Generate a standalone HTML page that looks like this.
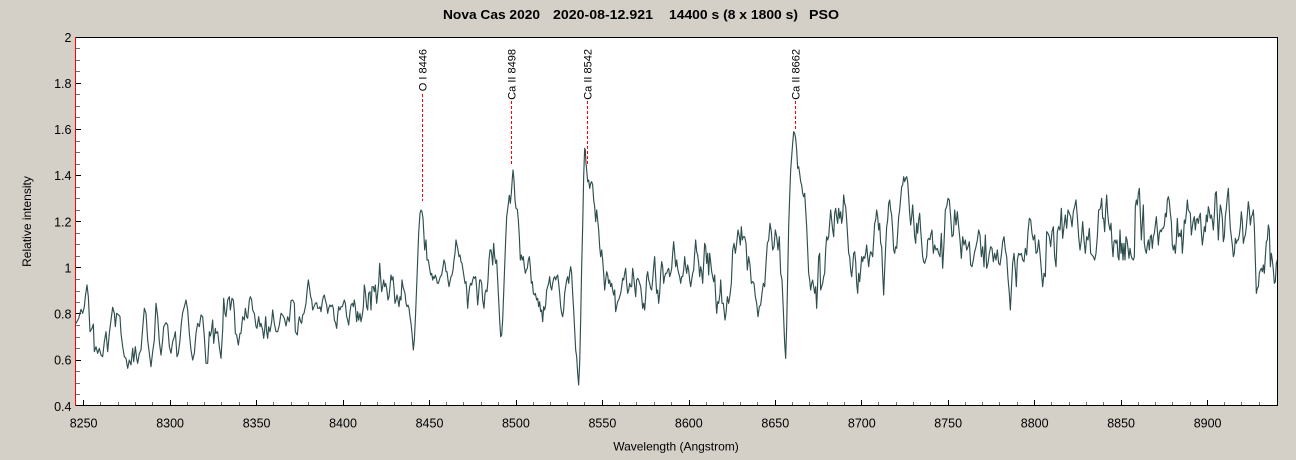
<!DOCTYPE html>
<html>
<head>
<meta charset="utf-8">
<style>
  html,body{margin:0;padding:0;background:#d4d0c8;}
  svg{display:block;}
  text{font-family:"Liberation Sans",Arial,sans-serif;fill:#000;}
</style>
</head>
<body>
<svg width="1296" height="460" viewBox="0 0 1296 460" xmlns="http://www.w3.org/2000/svg">
  <rect x="0" y="0" width="1296" height="460" fill="#d4d0c8"/>
  <!-- Title -->
  <g font-weight="bold" font-size="13">
    <text x="443" y="19" textLength="97" lengthAdjust="spacingAndGlyphs">Nova Cas 2020</text>
    <text x="553" y="19" textLength="100" lengthAdjust="spacingAndGlyphs">2020-08-12.921</text>
    <text x="669" y="19" textLength="129" lengthAdjust="spacingAndGlyphs">14400 s (8 x 1800 s)</text>
    <text x="809" y="19" textLength="30" lengthAdjust="spacingAndGlyphs">PSO</text>
  </g>

  <!-- Plot area -->
  <rect x="76" y="38" width="1201" height="368" fill="#ffffff"/>

  <!-- Tick marks -->
  <g shape-rendering="crispEdges" stroke-width="1">
    <!-- y major -->
    <path stroke="#000" d="M75 37.5H81M75 83.5H81M75 129.5H81M75 175.5H81M75 221.5H81M75 267.5H81M75 313.5H81M75 360.5H81M75 405.5H81"/>
    <!-- y minor -->
    <path stroke="#707070" d="M76 48.5H80M76 60.5H80M76 71.5H80M76 94.5H80M76 106.5H80M76 117.5H80M76 141.5H80M76 152.5H80M76 164.5H80M76 187.5H80M76 198.5H80M76 210.5H80M76 233.5H80M76 244.5H80M76 256.5H80M76 279.5H80M76 291.5H80M76 302.5H80M76 325.5H80M76 337.5H80M76 348.5H80M76 371.5H80M76 383.5H80M76 394.5H80"/>
    <!-- x major -->
    <path stroke="#000" d="M83.5 406V400M170.5 406V400M256.5 406V400M343.5 406V400M429.5 406V400M516.5 406V400M602.5 406V400M689.5 406V400M775.5 406V400M861.5 406V400M948.5 406V400M1034.5 406V400M1121.5 406V400M1207.5 406V400"/>
    <!-- x minor -->
    <path stroke="#707070" d="M100.5 406V402M118.5 406V402M135.5 406V402M152.5 406V402M187.5 406V402M204.5 406V402M221.5 406V402M239.5 406V402M273.5 406V402M291.5 406V402M308.5 406V402M325.5 406V402M360.5 406V402M377.5 406V402M394.5 406V402M411.5 406V402M446.5 406V402M463.5 406V402M481.5 406V402M498.5 406V402M533.5 406V402M550.5 406V402M567.5 406V402M584.5 406V402M619.5 406V402M636.5 406V402M654.5 406V402M671.5 406V402M706.5 406V402M723.5 406V402M740.5 406V402M757.5 406V402M792.5 406V402M809.5 406V402M827.5 406V402M844.5 406V402M878.5 406V402M896.5 406V402M913.5 406V402M930.5 406V402M965.5 406V402M982.5 406V402M999.5 406V402M1017.5 406V402M1051.5 406V402M1069.5 406V402M1086.5 406V402M1103.5 406V402M1138.5 406V402M1155.5 406V402M1172.5 406V402M1190.5 406V402M1224.5 406V402M1241.5 406V402M1259.5 406V402"/>
  </g>

  <!-- Annotation dashed lines -->
  <g stroke="#ff0000" stroke-width="1" stroke-dasharray="3 2" shape-rendering="crispEdges">
    <line x1="422.5" y1="94" x2="422.5" y2="201"/>
    <line x1="511.5" y1="101" x2="511.5" y2="166"/>
    <line x1="587.5" y1="101" x2="587.5" y2="166"/>
    <line x1="795.5" y1="101" x2="795.5" y2="129"/>
  </g>

  <!-- Spectrum -->
  <defs>
    <clipPath id="pc"><rect x="76" y="38" width="1201" height="368"/></clipPath>
  </defs>
  <g clip-path="url(#pc)" fill="none" stroke="#2f4f4f" stroke-width="1.15" stroke-linejoin="round">
    <g transform="translate(76,200) scale(0.333333)">
      <polyline vector-effect="non-scaling-stroke" points="0,370 8,355 15,328 20,340 25,320 28,290 33,255 37,290 42,395 48,385 52,372 55,455 60,440 65,460 70,445 75,465 80,470 85,425 90,395 95,455 100,400 105,360 110,322 115,340 118,380 122,340 128,345 132,350 135,400 140,440 145,470 150,475 155,505 160,480 165,495 170,445 173,485 178,440 182,475 185,490 190,460 195,450 200,385 205,325 210,340 215,420 220,460 225,500 230,455 235,420 240,310 245,350 250,425 255,465 260,420 263,380 270,368 275,375 280,440 285,460 290,425 295,410 298,395 303,470 307,460 312,420 316,370 320,338 325,320 330,300 335,330 340,400 345,450 350,480 355,460 360,400 365,370 370,380 375,345 380,350 385,410 390,490 395,490 400,395 403,408 406,395 410,360 413,430 418,385 420,400 425,395 430,440 435,475 440,390 443,295 447,340 450,350 455,300 460,290 463,330 468,295 472,300 475,335 478,400 482,405 487,435 492,400 495,400 500,350 505,360 508,325 512,350 515,355 520,300 523,290 527,300 530,330 535,340 540,380 543,385 548,350 552,380 555,370 560,390 563,415 566,390 569,350 572,395 575,415 578,380 582,395 587,365 590,330 595,370 600,395 605,395 610,375 615,340 620,345 625,355 630,378 635,350 640,365 645,302 650,300 655,310 658,395"/>
    </g>
    <g transform="translate(290,160) scale(0.333333)">
      <polyline vector-effect="non-scaling-stroke" points="16,515 22,525 25,490 28,470 32,485 35,490 38,465 42,460 45,445 48,430 52,385 55,360 58,380 62,410 65,420 68,450 72,440 76,430 80,428 83,445 87,445 90,440 93,455 97,425 100,410 103,405 106,420 110,435 113,460 116,445 120,435 123,440 127,435 130,445 133,480 137,490 140,505 143,465 146,440 150,450 153,440 157,440 160,430 163,420 166,430 170,470 173,480 176,495 180,455 183,435 187,430 190,440 193,420 196,440 200,485 203,455 206,480 210,460 213,485 217,465 220,440 223,375 226,395 230,440 233,450 236,400 240,395 243,450 246,380 250,380 253,395 256,375 260,430 263,400 266,370 269,310 272,355 275,395 278,380 281,360 284,380 287,370 290,385 294,420 297,410 300,380 303,345 306,360 309,350 312,385 315,430 318,420 321,405 324,420 327,440 330,410 333,420 336,360 339,380 342,390 345,400 348,430 351,440 354,435 357,445 360,470 363,490 366,520 370,570 373,540 376,480 380,380 383,300 386,220 390,160 393,150 396,155 399,175 402,230 404,270 406,255 408,240 411,300 415,300 418,320 422,345 425,340 428,360 430,350 433,355 436,345 439,355 442,370 445,370 448,360 451,350 455,345 459,320 462,300 465,310 468,335 471,335 474,360 477,380 480,365 483,350 486,345 489,330 492,300 495,280 498,240 501,255 504,270 507,290 510,285 513,305 516,310 519,330 522,350 525,370 528,365 530,390 533,445 536,405 539,380 542,370 545,375 548,360 551,350 554,355 557,350 560,385 563,435 566,400 569,360 572,360 575,370 578,420 582,445 585,400 588,390 591,395 594,360 597,300 600,270 603,270 606,290 608,315 611,250 614,290 617,310 620,300 623,360 626,420 629,480 632,530 635,525 638,480 641,400 644,320 647,240 650,170 654,140 658,105"/>
    </g>
    <g transform="translate(500,120) scale(0.333333)">
      <polyline vector-effect="non-scaling-stroke" points="28,225 31,250 34,220 37,175 39,150 42,180 45,240 48,265 52,268 55,300 58,350 61,420 64,405 67,420 70,410 73,440 76,460 79,450 82,445 85,420 88,410 91,440 94,490 97,485 100,520 103,525 106,520 110,540 113,535 116,560 119,545 122,575 125,570 128,605 131,560 134,570 137,555 140,510 143,500 146,490 149,470 152,500 155,510 158,490 161,475 164,470 167,480 170,470 173,465 176,490 179,520 182,560 185,580 188,590 191,570 194,520 197,500 200,480 203,470 206,490 209,460 212,440 215,460 218,520 221,570 224,630 227,690 230,710 233,760 236,795 239,730 242,600 245,440 248,320 251,170 254,85 256,90 258,130 260,150 263,185 266,180 269,205 272,190 275,185 278,195 281,240 284,260 287,305 290,270 293,300 296,330 299,380 302,410 305,390 308,420 311,460 314,510 317,480 320,455 323,465 326,490 329,480 332,500 335,490 338,510 341,525 344,510 347,575 350,560 353,545 356,540 359,530 362,520 365,500 368,475 371,480 374,460 377,445 380,490 383,520 386,510 389,490 392,500 395,500 398,445 401,470 404,500 407,530 410,480 413,475 416,480 419,490 422,500 425,530 428,565 431,550 434,570 437,530 440,470 443,455 446,480 449,490 452,505 455,510 458,480 461,440 464,410 467,470 470,520 473,510 476,550 479,520 482,460 485,425 488,440 491,490 494,470 497,460 500,460 503,450 506,445 509,470 512,460 515,445 518,400 521,365 524,400 527,440 530,420 533,445 536,460 539,470 542,490 545,470 548,470 551,450 554,410 557,440 560,460 563,435 566,450 569,480 572,500 575,480 578,460 581,450 584,400 587,360 590,395 593,405 596,430 599,470 602,440 605,455 608,490 611,430 614,370 617,380 620,430 623,400 626,465 629,400 632,425 635,455 638,470 641,485 644,465 647,530 650,580 653,545 656,550 660,520"/>
    </g>
    <g transform="translate(710,110) scale(0.333333)">
      <polyline vector-effect="non-scaling-stroke" points="30,550 32,510 36,580 40,580 45,630 48,610 52,560 56,580 60,555 64,520 68,420 72,400 76,430 80,400 84,360 88,380 91,405 94,350 97,390 100,380 104,380 108,400 112,480 116,440 120,465 124,520 128,515 132,520 136,560 140,580 144,620 148,590 152,585 156,550 160,520 164,530 168,460 172,400 176,390 180,340 184,365 188,420 192,410 196,360 200,380 204,420 208,380 212,490 216,510 220,600 224,700 227,745 230,650 233,500 236,350 239,260 242,180 245,140 248,100 251,65 254,70 257,85 260,120 263,175 266,170 269,190 272,215 275,225 278,250 281,260 284,250 287,300 290,350 293,420 296,490 299,510 302,540 305,520 308,510 311,530 314,550 317,530 320,595 323,520 326,440 329,430 332,540 335,530 338,520 341,500 344,490 347,420 350,380 353,390 356,380 359,340 362,300 365,330 368,360 371,380 374,310 377,295 380,320 383,340 386,295 389,325 392,305 395,340 398,320 401,255 404,280 407,290 410,330 413,380 416,430 419,440 422,480 425,500 428,470 431,430 434,425 437,455 440,520 443,550 446,490 449,515 452,480 455,440 458,455 461,440 464,445 467,430 470,405 473,440 476,470 479,440 482,425 485,430 488,440 491,390 494,340 497,330 500,300 503,320 506,360 509,340 512,400 515,410 518,490 521,555 524,480 527,410 530,350 533,330 536,280 539,270 542,300 545,315 548,360 551,420 554,430 557,410 560,415 563,370 566,320 569,300 572,265 575,230 578,225 581,200 584,215 587,205 590,200 593,215 596,260 599,310 602,345 605,320 608,285 611,330 614,380 617,400 620,340 623,370 626,330 629,310 632,360 635,400 638,440 641,455 644,460 647,450 650,440 653,390 656,385 660,390"/>
    </g>
    <g transform="translate(920,160) scale(0.333333)">
      <polyline vector-effect="non-scaling-stroke" points="30,240 32,225 36,210 40,280 44,255 48,270 52,265 56,280 60,290 64,220 68,325 72,250 76,150 80,140 84,115 88,120 92,170 96,230 100,225 104,150 108,195 112,155 116,200 120,240 124,295 128,230 132,255 136,240 140,270 144,260 148,245 152,315 156,320 160,300 164,275 168,260 172,240 176,210 180,225 184,290 188,260 192,320 196,225 200,325 204,310 208,280 212,260 216,265 220,305 224,280 228,300 232,270 236,310 240,315 244,285 248,245 252,230 256,270 260,290 264,355 268,400 271,450 274,390 278,310 282,280 286,330 289,380 292,300 296,280 300,285 304,280 308,300 312,305 316,265 320,285 324,215 328,175 332,180 336,220 340,240 344,225 348,280 352,275 356,240 360,280 364,330 368,380 372,340 376,350 380,215 384,220 388,230 392,260 396,215 400,200 404,290 408,320 412,215 416,200 420,210 424,145 428,235 432,200 436,165 440,205 444,150 448,160 452,170 456,200 460,155 464,140 468,120 472,170 476,230 480,270 484,240 488,185 492,240 496,280 500,230 504,240 508,205 512,280 516,285 520,290 524,300 528,280 532,230 536,150 540,148"/>
    </g>
    <g transform="translate(1090,160) scale(0.333333)">
      <polyline vector-effect="non-scaling-stroke" points="30,148 32,140 35,115 38,175 41,175 44,215 47,150 50,105 53,160 56,190 60,210 63,190 66,250 69,290 72,245 75,240 78,250 81,240 84,290 87,300 90,210 93,280 96,250 99,300 102,250 105,300 108,230 111,240 114,265 117,295 120,265 123,285 126,295 130,300 133,290 136,140 139,120 142,135 145,100 148,85 151,160 154,240 157,190 160,135 163,250 166,270 169,280 172,255 175,240 178,270 181,230 184,225 187,265 190,230 193,220 196,195 199,170 202,210 205,255 208,220 211,210 214,215 217,205 220,205 223,195 226,160 229,170 232,120 235,110 238,125 241,160 244,185 247,255 250,270 253,255 256,280 259,240 262,175 265,230 268,220 271,230 274,210 277,280 280,240 283,180 286,190 289,160 292,120 295,150 298,155 301,160 304,225 307,200 310,180 313,170 316,210 319,180 322,175 325,190 328,170 331,160 334,215 337,255 340,230 343,200 346,215 349,165 352,185 355,140 358,155 361,175 364,165 367,180 370,210 373,165 376,100 379,95 382,165 385,240 388,180 391,135 394,150 397,175 400,245 403,230 406,170 409,145 412,110 415,85 418,150 421,205 424,230 427,255 430,290 433,280 436,235 439,250 442,240 445,240 448,225 451,200 454,155 457,185 460,250 463,235 466,225 469,200 472,165 475,125 478,150 481,195 484,170 487,165 490,150 493,200 496,300 499,400 502,385 505,380 508,340 511,330 514,325 517,335 520,315 523,340 526,290 529,245 532,240 535,195 538,210 541,320 544,280 547,300 550,330 553,370 556,365 559,310 562,300 565,305"/>
    </g>
  </g>

  <!-- Frame -->
  <g shape-rendering="crispEdges" stroke-width="1" fill="none">
    <line x1="75" y1="37.5" x2="1278" y2="37.5" stroke="#000"/>
    <line x1="1277.5" y1="37" x2="1277.5" y2="406" stroke="#000"/>
    <line x1="75" y1="405.5" x2="1278" y2="405.5" stroke="#000"/>
    <line x1="75.5" y1="37" x2="75.5" y2="406" stroke="#ff0000"/>
  </g>

  <!-- Annotation labels -->
  <g font-size="11">
    <text transform="translate(426.3,49) rotate(-90)" text-anchor="end">O I 8446</text>
    <text transform="translate(515.7,49) rotate(-90)" text-anchor="end">Ca II 8498</text>
    <text transform="translate(591.7,49) rotate(-90)" text-anchor="end">Ca II 8542</text>
    <text transform="translate(799.7,49) rotate(-90)" text-anchor="end">Ca II 8662</text>
  </g>

  <!-- Y tick labels -->
  <g font-size="12.5" text-anchor="end">
    <text x="71.5" y="41.8">2</text>
    <text x="71.5" y="87.9">1.8</text>
    <text x="71.5" y="134.1">1.6</text>
    <text x="71.5" y="180.2">1.4</text>
    <text x="71.5" y="226.3">1.2</text>
    <text x="71.5" y="272.5">1</text>
    <text x="71.5" y="318.6">0.8</text>
    <text x="71.5" y="364.7">0.6</text>
    <text x="71.5" y="410.8">0.4</text>
  </g>

  <!-- X tick labels -->
  <g font-size="12.5" text-anchor="middle">
    <text x="83.6" y="427.3">8250</text>
    <text x="170.1" y="427.3">8300</text>
    <text x="256.6" y="427.3">8350</text>
    <text x="343.0" y="427.3">8400</text>
    <text x="429.5" y="427.3">8450</text>
    <text x="515.9" y="427.3">8500</text>
    <text x="602.4" y="427.3">8550</text>
    <text x="688.8" y="427.3">8600</text>
    <text x="775.3" y="427.3">8650</text>
    <text x="861.8" y="427.3">8700</text>
    <text x="948.2" y="427.3">8750</text>
    <text x="1034.7" y="427.3">8800</text>
    <text x="1121.1" y="427.3">8850</text>
    <text x="1207.6" y="427.3">8900</text>
  </g>

  <!-- Axis titles -->
  <text x="676" y="450.5" font-size="12" text-anchor="middle">Wavelength (Angstrom)</text>
  <text transform="translate(31,221.5) rotate(-90)" font-size="12" text-anchor="middle">Relative intensity</text>
</svg>
</body>
</html>
